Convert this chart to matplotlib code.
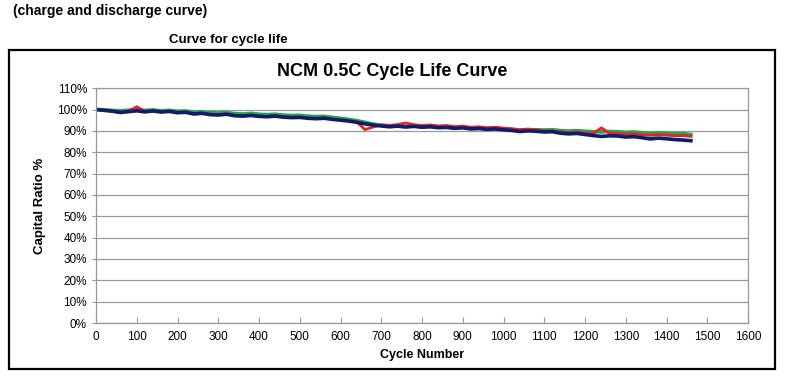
import matplotlib.pyplot as plt
from matplotlib.patches import Rectangle


# DATA

cycles = list(range(0, 1461, 20))

blue_ratio = [
    100.0, 99.6, 99.2, 98.6, 99.0, 99.4, 98.9, 99.3, 98.8, 99.1,
    98.5, 98.7, 97.9, 98.2, 97.6, 97.4, 97.8, 97.1, 96.9, 97.2,
    96.8, 96.6, 96.9, 96.4, 96.2, 96.3, 95.9, 95.7, 95.9, 95.4,
    95.0, 94.6, 94.0, 93.3, 92.7, 92.3, 91.9, 92.2, 91.8, 92.1,
    91.7, 91.9, 91.5, 91.6, 91.2, 91.4, 90.9, 91.1, 90.7, 90.9,
    90.5, 90.2, 89.7, 90.0, 89.8, 89.5, 89.6, 88.9, 88.6, 88.8,
    88.3, 87.8, 87.4, 87.7, 87.6, 87.1, 87.3, 86.8, 86.2, 86.6,
    86.3, 85.9, 85.7, 85.4
]

green_ratio = [
    100.0, 99.9, 99.6, 99.4, 99.7, 99.9, 99.6, 99.8, 99.4, 99.6,
    99.2, 99.3, 98.8, 98.9, 98.5, 98.4, 98.6, 98.1, 97.9, 98.2,
    97.8, 97.6, 97.8, 97.4, 97.2, 97.3, 96.9, 96.7, 96.8, 96.3,
    95.9, 95.4, 94.8, 94.0, 93.2, 92.6, 92.2, 92.5, 92.1, 92.4,
    92.0, 92.2, 91.8, 91.9, 91.5, 91.7, 91.2, 91.4, 91.0, 91.2,
    90.9, 90.7, 90.3, 90.6, 90.5, 90.4, 90.5, 90.1, 89.9, 90.1,
    89.8, 89.6, 89.5, 89.7, 89.6, 89.3, 89.5, 89.1, 88.8, 89.1,
    88.9, 88.6, 88.7, 88.3
]

red_ratio = [
    100.0, 99.7, 99.3, 98.8, 99.2, 101.3, 99.1, 99.5, 99.0, 99.3,
    98.7, 98.9, 98.1, 98.4, 97.8, 97.6, 98.0, 97.3, 97.1, 97.4,
    97.0, 96.8, 97.1, 96.6, 96.4, 96.5, 96.1, 95.9, 96.1, 95.6,
    95.2, 94.8, 94.2, 90.6, 91.8, 92.8, 92.6, 92.9, 93.7, 92.9,
    92.5, 92.8, 92.3, 92.5, 92.0, 92.2, 91.7, 91.9, 91.5, 91.7,
    91.3, 91.0, 90.6, 90.8, 90.5, 90.0, 90.0, 89.5, 89.2, 89.4,
    89.0, 88.8, 91.4, 88.9, 88.8, 88.4, 88.6, 88.2, 87.9, 88.2,
    88.0, 87.7, 87.8, 87.4
]

y_ticks = list(range(0, 111, 10))
x_ticks = list(range(0, 1601, 100))


def main():

    plt.rcParams["font.family"] = ["Liberation Sans", "DejaVu Sans"]

    fig = plt.figure(figsize=(8, 3.85), dpi=100)

    # HEADINGS ABOVE THE CHART

    fig.text(
        0.016, 0.972,
        "(charge and discharge curve)",
        fontsize=10, fontweight="bold",
        ha="left", va="center"
    )

    fig.text(
        0.285, 0.896,
        "Curve for cycle life",
        fontsize=9.5, fontweight="bold",
        ha="center", va="center"
    )

    # OUTER CHART BOX

    fig.patches.append(
        Rectangle(
            (0.011, 0.042), 0.958, 0.828,
            transform=fig.transFigure,
            fill=False, edgecolor="black", linewidth=1.6
        )
    )

    fig.text(
        0.49, 0.815,
        "NCM 0.5C Cycle Life Curve",
        fontsize=13, fontweight="bold",
        ha="center", va="center"
    )

    # PLOT AREA

    ax = fig.add_axes([0.12, 0.161, 0.815, 0.610])

    ax.plot(cycles, green_ratio, color="#1fa84f", linewidth=2.6)
    ax.plot(cycles, red_ratio, color="#e8231c", linewidth=2.0)
    ax.plot(cycles, blue_ratio, color="#0e1c6b", linewidth=2.6)

    ax.set_xlim(0, 1600)
    ax.set_ylim(0, 110)

    ax.set_xticks(x_ticks)
    ax.set_yticks(y_ticks)
    ax.set_yticklabels([f"{v}%" for v in y_ticks])

    ax.grid(axis="y", color="#999999", linewidth=0.9)
    ax.set_axisbelow(True)

    for side in ["left", "right", "top", "bottom"]:
        ax.spines[side].set_color("#999999")
        ax.spines[side].set_linewidth(0.9)

    ax.tick_params(
        axis="x", direction="in", length=4,
        color="#999999", labelsize=8.5, pad=6
    )

    ax.tick_params(
        axis="y", direction="out", length=3,
        color="#999999", labelsize=8.5
    )

    ax.set_xlabel(
        "Cycle Number",
        fontsize=9, fontweight="bold", labelpad=4
    )

    ax.set_ylabel(
        "Capital Ratio %",
        fontsize=9.5, fontweight="bold", labelpad=8
    )

    # SAVE IMAGE

    fig.savefig("out.png", dpi=100)


if __name__ == "__main__":

    main()
